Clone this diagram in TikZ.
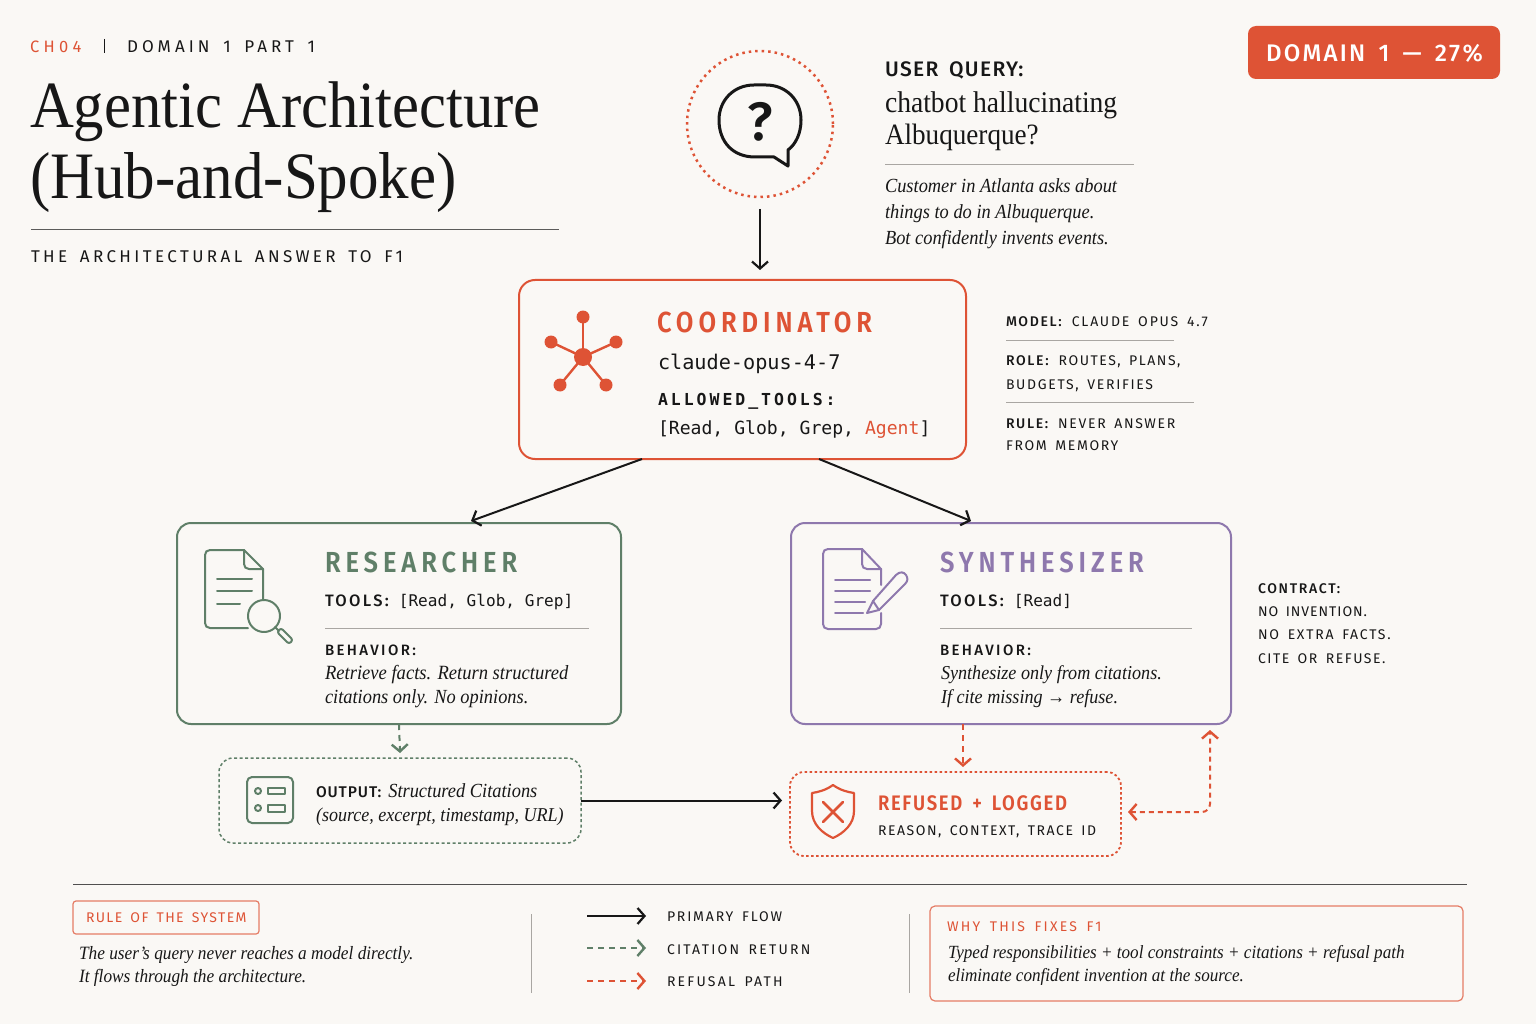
\documentclass[tikz,border=0pt]{standalone}
\usepackage{fontspec}
\usetikzlibrary{arrows.meta,calc}
\setmainfont{Liberation Serif}[FakeStretch=0.92]
\definecolor{bgc}{HTML}{FAF8F5}
\definecolor{ink}{HTML}{171717}
\definecolor{org}{HTML}{DE5335}
\definecolor{grn}{HTML}{5F7F68}
\definecolor{pur}{HTML}{8E78AD}
\definecolor{rulec}{HTML}{A9A6A2}
\newcommand\lreg[3]{{\fontspec[LetterSpace=#1,WordSpace=1.6]{Fira Sans}\fontsize{#2pt}{#2pt}\selectfont #3}}
\newcommand\lbld[3]{{\fontspec[LetterSpace=#1,WordSpace=1.6]{Fira Sans Medium}\fontsize{#2pt}{#2pt}\selectfont #3}}
\newcommand\lhead[3]{{\fontspec[LetterSpace=#1,WordSpace=1.6,FakeStretch=0.88]{Fira Sans SemiBold}\fontsize{#2pt}{#2pt}\selectfont #3}}
\newcommand\lmono[3]{{\fontspec[LetterSpace=#1]{DejaVu Sans Mono}\fontsize{#2pt}{#2pt}\selectfont #3}}
\newcommand\lmonob[3]{{\fontspec[LetterSpace=#1]{DejaVu Sans Mono}\bfseries\fontsize{#2pt}{#2pt}\selectfont #3}}
\newcommand\ital[2]{{\fontsize{#1pt}{#1pt}\selectfont\itshape #2}}
\newcommand\rom[2]{{\fontsize{#1pt}{#1pt}\selectfont #2}}
\tikzset{
  txt/.style={anchor=base west,inner sep=0pt,outer sep=0pt,text=ink},
  boxn/.style={anchor=north west,inner sep=0pt,outer sep=0pt,rounded corners=#1},
  thinrule/.style={draw=rulec,line width=0.9pt},
  flow/.style={draw=ink,line width=2pt,-{Straight Barb[length=7pt,width=16pt,line width=2.2pt]}},
  citeflow/.style={draw=grn,line width=2pt,dash pattern=on 6pt off 5pt,-{Straight Barb[length=7pt,width=16pt,line width=2.4pt]}},
  refflow/.style={draw=org,line width=2pt,dash pattern=on 6pt off 5pt,-{Straight Barb[length=7pt,width=16pt,line width=2.4pt]}},
  ico/.style={line width=2pt,line join=round,line cap=round},
}
\begin{document}
\begin{tikzpicture}[x=1pt,y=-1pt]
\useasboundingbox (0,0) rectangle (1536,1024);
\fill[bgc] (0,0) rectangle (1536,1024);
% header
\node[txt] (ch) at (30,53) {\lreg{26}{16.5}{\textcolor{org}{CH04}}};
\draw[ink,line width=1pt] (104,39) -- (104,53);
\node[txt] (dom) at (127,53) {\lreg{24}{17}{DOMAIN 1 PART 1}};
\node[txt] (title1) at (30,128) {\rom{66}{Agentic Architecture}};
\node[txt] (title2) at (30,199) {\rom{66.3}{(Hub-and-Spoke)}};
\draw[ink!70!bgc,line width=1pt] (31,230) -- (559,230);
\node[txt] (sub) at (31,262) {\lreg{20}{17}{THE ARCHITECTURAL ANSWER TO F1}};
% badge
\node[boxn=8pt,fill=org,minimum width=252pt,minimum height=53pt] (badge) at (1248,26) {};
\node[txt,text=white] (badget) at (1266,62) {\lbld{9.5}{24}{DOMAIN 1 — 27\%}};
% user query
\node[circle,draw=org,line width=2.5pt,dash pattern=on 2.5pt off 4pt,minimum size=146pt,inner sep=0pt,outer sep=0pt] (user) at (760,124) {};
\draw[ink,line width=3pt,line join=round] (774,157) -- (788,166) -- (788,150) .. controls (796,144) and (801,133) .. (801,120) .. controls (801,100) and (786,85) .. (766,85) -- (754,85) .. controls (734,85) and (719,100) .. (719,120) .. controls (719,142) and (733,157) .. (755,157) -- cycle;
\node[anchor=center,inner sep=0pt,text=ink] (qm) at (760,122) {\lbld{0}{54}{?}};
\node[txt] (uq) at (885,77) {\lbld{6.5}{21}{USER QUERY:}};
\node[txt] (q1) at (885,113) {\rom{30}{chatbot hallucinating}};
\node[txt] (q2) at (885,145) {\rom{29.5}{Albuquerque?}};
\draw[thinrule] (885,164) -- (1134,164);
\node[txt] (q3) at (885,193) {\ital{20}{Customer in Atlanta asks about}};
\node[txt] (q4) at (885,219) {\ital{20}{things to do in Albuquerque.}};
\node[txt] (q5) at (885,245) {\ital{20}{Bot confidently invents events.}};
% coordinator
\node[boxn=16pt,draw=org,line width=2pt,minimum width=447pt,minimum height=179pt] (coord) at (519,280) {};
\foreach \a/\b in {583/317,551/342,616/342,560/385,606/385}{
  \draw[org,line width=2.4pt] (583,357) -- (\a,\b);
  \fill[org] (\a,\b) circle[radius=6.5];
}
\fill[org] (583,357) circle[radius=9];
\node[txt] (c1) at (657,332) {\lhead{17}{29}{\textcolor{org}{COORDINATOR}}};
\node[txt] (c2) at (658,369) {\lmono{0}{20.2}{claude-opus-4-7}};
\node[txt] (c3) at (658,405) {\lmonob{18}{16.5}{ALLOWED\_TOOLS:}};
\node[txt] (c4) at (658,434) {\lmono{0}{18.1}{[Read, Glob, Grep, \textcolor{org}{Agent}]}};
% notes
\node[txt] (n1) at (1006,326) {\lbld{12}{14}{MODEL:}\hspace{10pt}\lreg{13}{14}{CLAUDE OPUS 4.7}};
\draw[thinrule] (1006,340) -- (1174,340);
\node[txt] (n2) at (1006,365) {\lbld{12}{14}{ROLE:}\hspace{10pt}\lreg{11}{14}{ROUTES, PLANS,}};
\node[txt] (n3) at (1006,389) {\lreg{12}{14}{BUDGETS, VERIFIES}};
\draw[thinrule] (1006,402) -- (1194,402);
\node[txt] (n4) at (1006,428) {\lbld{12}{14}{RULE:}\hspace{10pt}\lreg{12}{14}{NEVER ANSWER}};
\node[txt] (n5) at (1006,450) {\lreg{12}{14}{FROM MEMORY}};
% researcher
\node[boxn=14pt,draw=grn,line width=2pt,minimum width=444pt,minimum height=201pt] (res) at (177,523) {};
\begin{scope}[ico]
\draw[grn] (248,628) -- (210,628) .. controls (207,628) and (205,626) .. (205,623) -- (205,555) .. controls (205,552) and (207,550) .. (210,550) -- (244,550) -- (263,569) -- (263,600);
\draw[grn] (244,550) -- (244,564) .. controls (244,567) and (246,569) .. (249,569) -- (263,569);
\draw[grn] (217,579) -- (252,579) (217,591) -- (252,591) (217,604) -- (240,604);
\draw[grn] (264,616) circle[radius=16];
\draw[grn] (275,627) -- (279,631);
\draw[grn,rounded corners=2.5pt] (277,632) -- (281,628) -- (293,640) -- (289,644) -- cycle;
\end{scope}
\node[txt] (r1) at (325,572) {\lhead{17}{29}{\textcolor{grn}{RESEARCHER}}};
\node[txt] (r2) at (325,606) {\lbld{14}{16.5}{TOOLS:}\hspace{10pt}\lmono{0}{16.1}{[Read, Glob, Grep]}};
\draw[thinrule] (325,628) -- (589,628);
\node[txt] (r3) at (325,655) {\lbld{16}{15}{BEHAVIOR:}};
\node[txt] (r4) at (325,679) {\ital{20.2}{Retrieve facts. Return structured}};
\node[txt] (r5) at (325,703) {\ital{20}{citations only. No opinions.}};
% synthesizer
\node[boxn=14pt,draw=pur,line width=2pt,minimum width=440pt,minimum height=201pt] (syn) at (791,523) {};
\begin{scope}[ico]
\draw[pur] (881,585) -- (881,569) -- (862,549) -- (828,549) .. controls (825,549) and (823,551) .. (823,554) -- (823,624) .. controls (823,627) and (825,629) .. (828,629) -- (876,629) .. controls (879,629) and (881,627) .. (881,624) -- (881,613);
\draw[pur] (862,549) -- (862,564) .. controls (862,567) and (864,569) .. (867,569) -- (881,569);
\draw[pur] (835,580) -- (870,580) (835,591) -- (870,591) (835,602) -- (865,602) (835,613) -- (863,613);
\draw[pur] (867,613) -- (873,601) -- (896,575) .. controls (900,571) and (904,572) .. (906,575) .. controls (908,578) and (908,581) .. (905,584) -- (879,610) -- cycle;
\draw[pur] (873,601) -- (879,610);
\end{scope}
\node[txt] (s1) at (940,572) {\lhead{17}{29}{\textcolor{pur}{SYNTHESIZER}}};
\node[txt] (s2) at (940,606) {\lbld{14}{16.5}{TOOLS:}\hspace{10pt}\lmono{0}{16.1}{[Read]}};
\draw[thinrule] (940,628) -- (1192,628);
\node[txt] (s3) at (940,655) {\lbld{16}{15}{BEHAVIOR:}};
\node[txt] (s4) at (941,679) {\ital{19.7}{Synthesize only from citations.}};
\node[txt] (s5) at (941,703) {\ital{19.7}{If cite missing → refuse.}};
\node[txt] (k1) at (1258,593) {\lbld{12}{14}{CONTRACT:}};
\node[txt] (k2) at (1258,616) {\lreg{7}{14}{NO INVENTION.}};
\node[txt] (k3) at (1258,639) {\lreg{12.5}{14}{NO EXTRA FACTS.}};
\node[txt] (k4) at (1258,663) {\lreg{11}{14}{CITE OR REFUSE.}};
% output
\node[boxn=14pt,draw=grn,line width=1.5pt,dash pattern=on 3pt off 2.5pt,minimum width=362pt,minimum height=85pt] (out) at (219,758) {};
\begin{scope}[ico]
\draw[grn,rounded corners=5pt] (247,777) rectangle (293,823);
\draw[grn] (258,791) circle[radius=3] (258,808) circle[radius=3];
\draw[grn,line width=1.6pt] (268,788) rectangle (285,794) (268,805) rectangle (285,812);
\end{scope}
\node[txt] (o1) at (316,797) {\lbld{6}{15.5}{OUTPUT:}\hspace{7pt}\ital{20}{Structured Citations}};
\node[txt] (o2) at (316,821) {\ital{19.6}{(source, excerpt, timestamp, URL)}};
% refused
\node[boxn=14pt,draw=org,line width=1.8pt,dash pattern=on 2.5pt off 2.5pt,minimum width=331pt,minimum height=84pt] (ref) at (790,772) {};
\begin{scope}[ico]
\draw[org,line width=2.2pt] (833,785) .. controls (826,790) and (819,792) .. (812,793) -- (812,811) .. controls (812,824) and (822,833) .. (833,838) .. controls (844,833) and (854,824) .. (854,811) -- (854,793) .. controls (847,792) and (840,790) .. (833,785) -- cycle;
\draw[org,line width=2.6pt] (823,802) -- (843,822) (843,802) -- (823,822);
\end{scope}
\node[txt] (f1) at (878,810) {\lhead{8}{21}{\textcolor{org}{REFUSED + LOGGED}}};
\node[txt] (f2) at (878,835) {\lreg{11}{14}{REASON, CONTEXT, TRACE ID}};
% connectors
\draw[flow] (user.south |- 0,209) -- ([yshift=10pt]coord.north -| user.south);
\draw[flow] ([xshift=-100.5pt]coord.south) -- ([xshift=72pt,yshift=2pt]res.north);
\draw[flow] ([xshift=76.5pt]coord.south) -- ([xshift=-40pt,yshift=2pt]syn.north);
\draw[citeflow] (res.south) -- ([yshift=5pt]out.north);
\draw[flow] (out.east) -- ([xshift=-8pt]ref.west |- out.east);
\draw[refflow] ([xshift=-48pt]syn.south) -- ([xshift=7.5pt,yshift=5pt]ref.north);
\coordinate (ret) at (1210,812);
\draw[refflow,{Straight Barb[length=7pt,width=16pt,line width=2.4pt]}-{Straight Barb[length=7pt,width=16pt,line width=2.4pt]},rounded corners=8pt,dash pattern=on 5pt off 4pt] ([xshift=7pt]ref.east |- ret) -- (ret) -- ([xshift=199pt,yshift=-6pt]syn.south);
% footer
\draw[ink!75!bgc,line width=1pt] (73,884) -- (1467,884);
\node[boxn=3pt,draw=org!75!bgc,line width=1.2pt,minimum width=186pt,minimum height=33pt] (rulebox) at (73,901) {};
\node[txt] (rb) at (86,922) {\lreg{10}{14}{\textcolor{org}{RULE OF THE SYSTEM}}};
\node[txt] (rt1) at (79,959) {\ital{18.8}{The user’s query never reaches a model directly.}};
\node[txt] (rt2) at (79,982) {\ital{18.8}{It flows through the architecture.}};
\draw[thinrule] (531,914) -- (531,993);
\draw[thinrule] (909,914) -- (909,993);
\coordinate (l1a) at (587,916); \coordinate (l1b) at (646,916);
\coordinate (l2a) at (587,948); \coordinate (l2b) at (646,948);
\coordinate (l3a) at (587,981); \coordinate (l3b) at (646,981);
\draw[flow] (l1a) -- (l1b);
\draw[citeflow] (l2a) -- (l2b);
\draw[refflow] (l3a) -- (l3b);
\node[txt] (l1) at (667,921) {\lreg{13}{14}{PRIMARY FLOW}};
\node[txt] (l2) at (667,954) {\lreg{16}{14}{CITATION RETURN}};
\node[txt] (l3) at (667,986) {\lreg{16}{14}{REFUSAL PATH}};
\node[boxn=5pt,draw=org!75!bgc,line width=1.2pt,minimum width=533pt,minimum height=95pt] (why) at (930,906) {};
\node[txt] (w1) at (947,931) {\lreg{16}{14}{\textcolor{org}{WHY THIS FIXES F1}}};
\node[txt] (w2) at (948,958) {\ital{18.6}{Typed responsibilities + tool constraints + citations + refusal path}};
\node[txt] (w3) at (948,981) {\ital{18.6}{eliminate confident invention at the source.}};
\end{tikzpicture}
\end{document}
